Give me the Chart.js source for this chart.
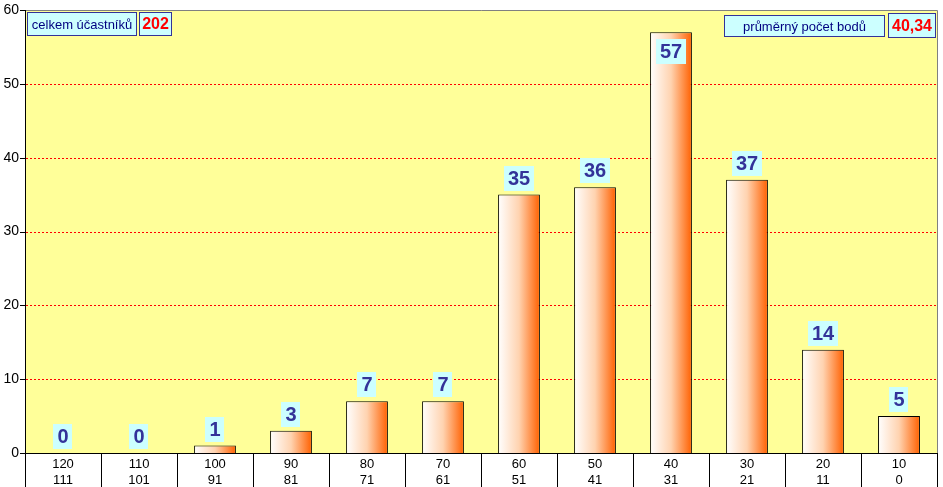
<!DOCTYPE html>
<html>
<head>
<meta charset="utf-8">
<script src="https://cdn.jsdelivr.net/npm/chart.js@4"></script>
<style>
  html, body { margin: 0; padding: 0; background: #fff; }
  #wrap { width: 943px; height: 487px; position: relative; }
</style>
</head>
<body>
<div id="wrap"><canvas id="pointsChart"></canvas></div>
<script>
// data
const rangeTop = ['120', '110', '100', '90', '80', '70', '60', '50', '40', '30', '20', '10'];
const rangeBottom = ['111', '101', '91', '81', '71', '61', '51', '41', '31', '21', '11', '0'];
const counts = [0, 0, 1, 3, 7, 7, 35, 36, 57, 37, 14, 5];
const totalLabel = 'celkem účastníků';
const totalValue = '202';
const avgLabel = 'průměrný počet bodů';
const avgValue = '40,34';

const BAR_PCT = 0.55;

function barGradient(ctx) {
    const chart = ctx.chart;
    const x = chart.scales.x;
    if (!x || !x.width) return '#ff9955';
    const cw = x.width / counts.length;
    const cx = x.getPixelForValue(ctx.dataIndex);
    const hw = cw * BAR_PCT / 2;
    const g = chart.ctx.createLinearGradient(cx - hw, 0, cx + hw, 0);
    g.addColorStop(0, '#ffffff');
    g.addColorStop(0.5, '#ffd3b0');
    g.addColorStop(1, '#ff6000');
    return g;
}

// yellow plot area, red dashed grid, borders, category separators, tick marks
const framePlugin = {
    id: 'frame',
    beforeDatasetsDraw(chart) {
        const { ctx, chartArea: a } = chart;
        const y = chart.scales.y;
        ctx.save();
        ctx.fillStyle = '#ffff99';
        ctx.fillRect(a.left, a.top, a.right - a.left, a.bottom - a.top);
        ctx.strokeStyle = '#ff0000';
        ctx.lineWidth = 1;
        ctx.setLineDash([2, 2]);
        ctx.beginPath();
        y.ticks.forEach(t => {
            if (t.value === 0 || t.value === 60) return;
            const py = Math.round(y.getPixelForValue(t.value)) + 0.5;
            ctx.moveTo(a.left + 1, py);
            ctx.lineTo(a.right, py);
        });
        ctx.stroke();
        ctx.restore();
    },
    afterDraw(chart) {
        const { ctx, chartArea: a } = chart;
        const x = chart.scales.x;
        const y = chart.scales.y;
        ctx.save();
        // gray top/right border
        ctx.strokeStyle = '#808080';
        ctx.lineWidth = 1;
        ctx.beginPath();
        ctx.moveTo(a.left, a.top + 0.5);
        ctx.lineTo(a.right + 0.5, a.top + 0.5);
        ctx.lineTo(a.right + 0.5, a.bottom);
        ctx.stroke();
        // black axes
        ctx.strokeStyle = '#000';
        ctx.beginPath();
        ctx.moveTo(a.left + 0.5, a.top);
        ctx.lineTo(a.left + 0.5, chart.height);
        ctx.moveTo(a.left, a.bottom + 0.5);
        ctx.lineTo(a.right + 1, a.bottom + 0.5);
        ctx.stroke();
        // separators under the plot
        const cw = x.width / counts.length;
        ctx.beginPath();
        for (let i = 1; i <= counts.length; i++) {
            const px = Math.round(a.left + cw * i) + 0.5;
            ctx.moveTo(px, a.bottom);
            ctx.lineTo(px, chart.height);
        }
        ctx.stroke();
        // y tick marks
        ctx.beginPath();
        y.ticks.forEach(t => {
            const py = Math.round(y.getPixelForValue(t.value)) + 0.5;
            ctx.moveTo(a.left - 5, py);
            ctx.lineTo(a.left, py);
        });
        ctx.stroke();

        // value labels
        ctx.font = 'bold 20px "Liberation Sans", Arial, sans-serif';
        ctx.textAlign = 'center';
        ctx.textBaseline = 'middle';
        const meta = chart.getDatasetMeta(0);
        meta.data.forEach((bar, i) => {
            const txt = String(counts[i]);
            const w = ctx.measureText(txt).width + 8;
            const h = 25;
            let top = bar.y - 4 - h;
            if (top < a.top + 4) top = bar.y + 7;
            ctx.fillStyle = '#ccffff';
            ctx.fillRect(Math.round(bar.x - w / 2), Math.round(top), Math.round(w), h);
            ctx.fillStyle = '#333399';
            ctx.fillText(txt, bar.x, top + h / 2 + 1);
        });

        // info boxes
        function box(x0, y0, w, h, txt, font, color) {
            ctx.fillStyle = '#ccffff';
            ctx.fillRect(x0, y0, w, h);
            ctx.strokeStyle = '#333399';
            ctx.lineWidth = 1;
            ctx.strokeRect(x0 + 0.5, y0 + 0.5, w - 1, h - 1);
            ctx.font = font;
            ctx.fillStyle = color;
            ctx.textAlign = 'center';
            ctx.textBaseline = 'middle';
            ctx.fillText(txt, x0 + w / 2, y0 + h / 2 + 1);
        }
        const smallFont = '13px "Liberation Sans", Arial, sans-serif';
        const bigFont = 'bold 16px "Liberation Sans", Arial, sans-serif';
        box(27, 12, 110, 24, totalLabel, smallFont, '#000080');
        box(139, 12, 33, 24, totalValue, bigFont, '#ff0000');
        box(724, 15, 161, 22, avgLabel, smallFont, '#000080');
        box(888, 13, 48, 25, avgValue, bigFont, '#ff0000');
        ctx.restore();
    }
};

new Chart(document.getElementById('pointsChart'), {
    type: 'bar',
    data: {
        labels: rangeTop.map((t, i) => [t, rangeBottom[i]]),
        datasets: [{
            data: counts,
            backgroundColor: barGradient,
            borderColor: '#000000',
            borderWidth: 1,
            borderSkipped: 'bottom',
            barPercentage: BAR_PCT,
            categoryPercentage: 1
        }]
    },
    options: {
        responsive: true,
        maintainAspectRatio: false,
        animation: false,
        layout: { padding: { top: 10, right: 6, left: 0, bottom: 0 } },
        plugins: {
            legend: { display: false },
            tooltip: { enabled: false }
        },
        scales: {
            x: {
                grid: { display: false, drawTicks: false },
                border: { display: false },
                ticks: {
                    color: '#000',
                    padding: 4,
                    maxRotation: 0,
                    font: { family: '"Liberation Sans", Arial, sans-serif', size: 13, lineHeight: 1.2 }
                },
                afterFit(s) { s.height = 34; s.paddingLeft = 0; s.paddingRight = 0; }
            },
            y: {
                min: 0,
                max: 60,
                border: { display: false },
                grid: { display: false, drawTicks: false },
                ticks: {
                    stepSize: 10,
                    color: '#000',
                    padding: 6,
                    font: { family: '"Liberation Sans", Arial, sans-serif', size: 14 }
                },
                afterFit(s) { s.width = 25; s.paddingTop = 0; s.paddingBottom = 0; }
            }
        }
    },
    plugins: [framePlugin]
});
</script>
</body>
</html>
